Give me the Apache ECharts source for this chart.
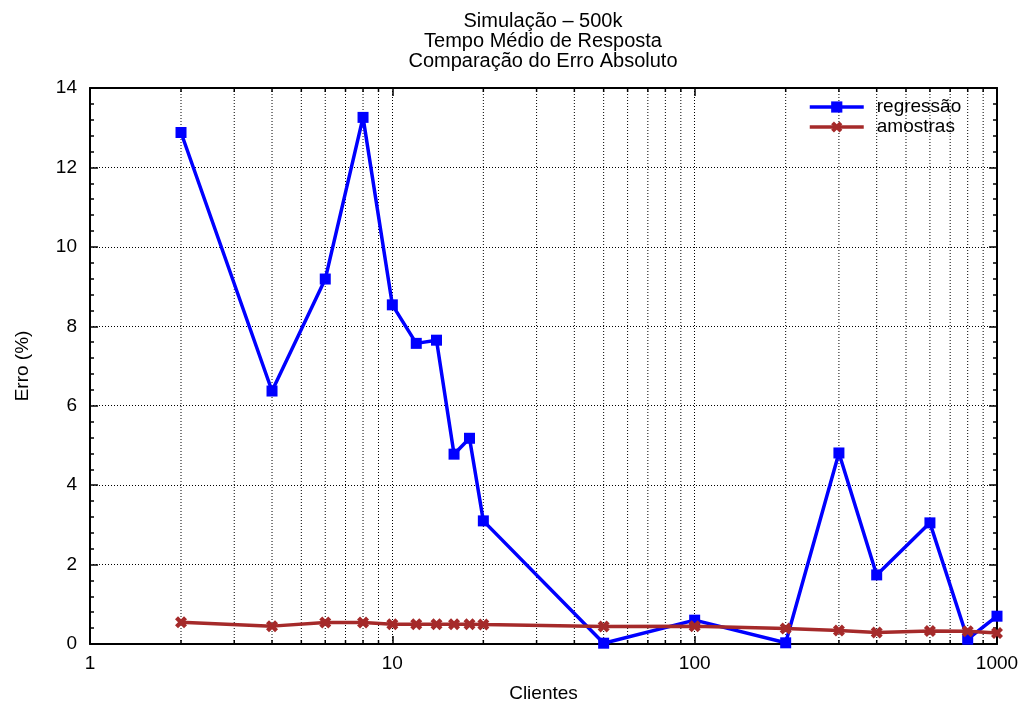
<!DOCTYPE html>
<html>
<head>
<meta charset="utf-8">
<script src="https://cdn.jsdelivr.net/npm/echarts@6/dist/echarts.min.js"></script>
<style>
  html, body { margin: 0; padding: 0; background: #fff; }
  #chart { width: 1025px; height: 709px; }
</style>
</head>
<body>
<div id="chart"></div>
<script>
// Number of clients (log scale) and the absolute error (%) of each method
const clientes = [2, 4, 6, 8, 10, 12, 14, 16, 18, 20, 50, 100, 200, 300, 400, 600, 800, 1000];
const regressao = [12.88, 6.37, 9.19, 13.26, 8.54, 7.57, 7.65, 4.78, 5.18, 3.10, 0.02, 0.60, 0.03, 4.81, 1.74, 3.05, 0.12, 0.70];
const amostras = [0.55, 0.45, 0.54, 0.54, 0.50, 0.50, 0.50, 0.50, 0.50, 0.49, 0.44, 0.45, 0.39, 0.34, 0.29, 0.33, 0.32, 0.28];

// Minor positions between decades on the x axis (ticks + vertical grid)
const minorTicksX = [2, 3, 4, 5, 6, 7, 8, 9, 20, 30, 40, 50, 60, 70, 80, 90, 200, 300, 400, 500, 600, 700, 800, 900];

const X_MIN = 1, X_MAX = 1000, Y_MIN = 0, Y_MAX = 14, Y_STEP = 2;
const FONT = 'Liberation Sans';
const FS = 19;

// bold "x" marker
const crossPath = 'path://M0,2.5 L2.5,0 L5,2.5 L7.5,0 L10,2.5 L7.5,5 L10,7.5 L7.5,10 L5,7.5 L2.5,10 L0,7.5 L2.5,5 Z';

const chart = echarts.init(document.getElementById('chart'), null, { renderer: 'canvas' });

const borderLine = { show: true, onZero: false, lineStyle: { color: '#000', width: 2 } };

chart.setOption({
  animation: false,
  backgroundColor: '#fff',
  textStyle: { fontFamily: FONT },
  title: {
    text: 'Simulação – 500k\nTempo Médio de Resposta\nComparação do Erro Absoluto',
    left: 538,
    top: 6,
    textAlign: 'center',
    textStyle: { fontFamily: FONT, fontSize: 20, fontWeight: 'normal', color: '#000', lineHeight: 20 }
  },
  grid: { left: 90, right: 28, top: 88, bottom: 65, containLabel: false },
  legend: {
    orient: 'vertical',
    left: 803,
    top: 92,
    itemWidth: 54,
    itemHeight: 14,
    itemGap: 0,
    lineStyle: { width: 3.5 },
    data: ['regressão', 'amostras'],
    textStyle: { fontFamily: FONT, fontSize: FS, color: '#000', lineHeight: 20, padding: [0, 0, 0, 8] }
  },
  xAxis: [
    {
      type: 'log', logBase: 10, min: X_MIN, max: X_MAX, position: 'bottom',
      name: 'Clientes', nameLocation: 'middle', nameGap: 40,
      nameTextStyle: { fontFamily: FONT, fontSize: FS, color: '#000' },
      axisLine: borderLine,
      axisTick: { show: true, inside: true, length: 8, lineStyle: { color: '#000', width: 1.5 } },
      axisLabel: { fontFamily: FONT, fontSize: FS, color: '#000', margin: 10,
                   formatter: v => String(Math.round(v)) },
      splitLine: { show: true, lineStyle: { color: '#000', width: 1, type: [1, 2] } }
    },
    {
      type: 'log', logBase: 10, min: X_MIN, max: X_MAX, position: 'top',
      axisLine: borderLine,
      axisTick: { show: true, inside: true, length: 8, lineStyle: { color: '#000', width: 1.5 } },
      axisLabel: { show: false },
      splitLine: { show: false }
    }
  ],
  yAxis: [
    {
      type: 'value', min: Y_MIN, max: Y_MAX, interval: Y_STEP, position: 'left',
      name: 'Erro (%)', nameLocation: 'middle', nameGap: 58,
      nameTextStyle: { fontFamily: FONT, fontSize: FS, color: '#000' },
      axisLine: borderLine,
      axisTick: { show: true, inside: true, length: 8, lineStyle: { color: '#000', width: 1.5 } },
      minorTick: { show: true, splitNumber: 5, length: 4, lineStyle: { color: '#000', width: 1.5 } },
      axisLabel: { fontFamily: FONT, fontSize: FS, color: '#000', margin: 13 },
      splitLine: { show: true, lineStyle: { color: '#000', width: 1, type: [1, 2] } }
    },
    {
      type: 'value', min: Y_MIN, max: Y_MAX, interval: Y_STEP, position: 'right',
      axisLine: borderLine,
      axisTick: { show: true, inside: true, length: 8, lineStyle: { color: '#000', width: 1.5 } },
      minorTick: { show: true, splitNumber: 5, length: 4, lineStyle: { color: '#000', width: 1.5 } },
      axisLabel: { show: false },
      splitLine: { show: false }
    }
  ],
  series: [
    {
      // vertical dotted grid and short tick marks at the minor decade positions
      type: 'custom',
      name: 'minor',
      xAxisIndex: 0,
      yAxisIndex: 0,
      silent: true,
      z: 1,
      data: minorTicksX.map(v => [v]),
      renderItem: function (params, api) {
        const v = api.value(0);
        const b = api.coord([v, Y_MIN]);
        const t = api.coord([v, Y_MAX]);
        return {
          type: 'group',
          children: [
            { type: 'line', shape: { x1: b[0], y1: b[1], x2: t[0], y2: t[1] },
              style: { stroke: '#000', lineWidth: 1, lineDash: [1, 2] } },
            { type: 'line', shape: { x1: b[0], y1: b[1], x2: b[0], y2: b[1] - 4 },
              style: { stroke: '#000', lineWidth: 1.5 } },
            { type: 'line', shape: { x1: t[0], y1: t[1], x2: t[0], y2: t[1] + 4 },
              style: { stroke: '#000', lineWidth: 1.5 } }
          ]
        };
      }
    },
    {
      name: 'regressão',
      type: 'line',
      data: clientes.map((c, i) => [c, regressao[i]]),
      symbol: 'rect',
      symbolSize: 11,
      z: 3,
      lineStyle: { color: '#0000ff', width: 3.5 },
      itemStyle: { color: '#0000ff' }
    },
    {
      name: 'amostras',
      type: 'line',
      data: clientes.map((c, i) => [c, amostras[i]]),
      symbol: crossPath,
      symbolSize: 12,
      z: 4,
      lineStyle: { color: '#a52a2a', width: 3.5 },
      itemStyle: { color: '#a52a2a' }
    }
  ]
});
</script>
</body>
</html>
